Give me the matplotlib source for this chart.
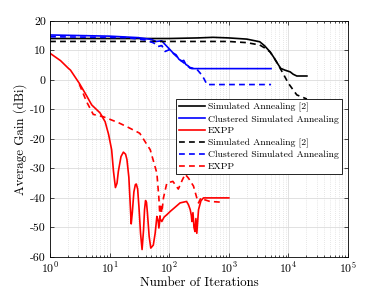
import matplotlib
matplotlib.use("Agg")
import matplotlib.pyplot as plt
from matplotlib.ticker import LogLocator, FixedLocator, NullFormatter

plt.rcParams['font.family'] = 'serif'
plt.rcParams['font.serif'] = ['cmr10', 'DejaVu Serif']
plt.rcParams['mathtext.fontset'] = 'cm'
plt.rcParams['axes.formatter.use_mathtext'] = True
plt.rcParams['axes.unicode_minus'] = False

# ---- data ----
sa_x = [1, 10, 100, 300, 540, 1000, 2000, 3300, 4000, 4900, 5600, 6300, 7400, 8700, 10700, 12000, 13800, 20400]
sa_y = [14.0, 14.0, 14.0, 14.2, 14.4, 14.2, 13.8, 12.9, 11.5, 9.5, 7.8, 6.1, 3.9, 3.3, 2.7, 1.9, 1.3, 1.3]

sa2_x = [1, 100, 1000, 2000, 3300, 4000, 4900, 5600, 6300, 7000, 8100, 10000, 13800, 20400]
sa2_y = [13.0, 13.0, 13.0, 12.6, 11.8, 10.8, 9.5, 7.8, 6.1, 4.5, 2.2, -1.2, -5.1, -6.5]

csa_x = [1, 10, 30, 50, 60, 75, 85, 100, 116, 130, 145, 162, 175, 190, 205, 222, 240, 5100]
csa_y = [15.2, 14.8, 14.3, 13.7, 13.0, 13.2, 12.0, 10.5, 9.1, 8.5, 7.0, 6.3, 6.6, 5.2, 4.8, 4.0, 3.8, 3.8]

csa2_x = [1, 20, 40, 55, 65, 75, 85, 100, 116, 162, 222, 290, 330, 380, 430, 5100]
csa2_y = [14.6, 14.3, 13.5, 12.5, 11.3, 11.6, 9.6, 10.2, 9.0, 6.3, 4.2, 3.6, 2.3, 0.5, -1.6, -1.6]

expp_x = [1, 1.5, 2.03, 2.2, 3.1, 4, 5, 6.9, 8.4, 9.6, 10.8, 11.6, 12.5, 13.3, 14, 15.5, 17, 18.5, 19.5,
          21, 22, 23, 24, 25.5, 27, 28, 29.5, 31, 33, 35, 37, 38.5, 40, 41.5, 43, 46, 49, 54, 58, 62,
          65, 67, 70, 75, 82, 91, 105, 120, 152, 195, 210, 225, 235, 240, 250, 260, 270, 280, 290,
          310, 340, 375, 1000]
expp_y = [9.0, 6.5, 3.9, 3.3, -1.2, -5.0, -8.5, -11.2, -14.2, -18.5, -23.7, -31.0, -36.5, -35.0, -31.0,
          -26.0, -24.5, -25.2, -27.0, -33.0, -41.0, -48.8, -45.0, -38.0, -35.5, -35.3, -37.0, -43.0, -52.0,
          -57.5, -51.0, -44.0, -40.9, -41.5, -45.0, -53.0, -57.0, -56.0, -52.0, -46.3, -47.5, -50.2, -47.0,
          -48.0, -46.5, -45.7, -44.5, -43.5, -41.7, -41.2, -42.3, -44.0, -46.0, -48.0, -45.0, -50.0, -51.4,
          -47.0, -52.0, -44.0, -41.0, -40.0, -40.0]

expp2_x = [3.1, 4.1, 5.3, 7.8, 14, 20, 32, 48, 62, 67, 70, 72, 75, 80, 91, 115, 142, 165, 185, 210, 255,
           290, 310, 340, 375, 480, 810]
expp2_y = [-1.5, -7.4, -11.7, -12.5, -14.5, -16.0, -18.1, -23.7, -31.6, -40.0, -47.0, -42.0, -45.0, -40.0,
           -35.0, -34.4, -37.0, -34.0, -32.0, -33.3, -36.0, -40.0, -41.7, -40.0, -40.5, -41.2, -41.5]

labels = ['Simulated Annealing [2]', 'Clustered Simulated Annealing', 'EXPP']
x_ticks = [1, 10, 100, 1000, 10000, 100000]
y_ticks = [-60, -50, -40, -30, -20, -10, 0, 10, 20]

fig = plt.figure(figsize=(3.85, 2.89), dpi=100)
ax = fig.add_axes([0.130, 0.111, 0.774, 0.817])

lw = 1.2
dash = (0, (3.5, 2.5))
ax.plot(sa_x, sa_y, color='black', lw=lw, label=labels[0])
ax.plot(csa_x, csa_y, color='blue', lw=lw, label=labels[1])
ax.plot(expp_x, expp_y, color='red', lw=lw, label=labels[2])
ax.plot(sa2_x, sa2_y, color='black', lw=lw, ls=dash, label=labels[0])
ax.plot(csa2_x, csa2_y, color='blue', lw=lw, ls=dash, label=labels[1])
ax.plot(expp2_x, expp2_y, color='red', lw=lw, ls=dash, label=labels[2])

ax.set_xscale('log')
ax.set_xlim(1, 1e5)
ax.set_ylim(-60, 20)
ax.xaxis.set_major_locator(FixedLocator(x_ticks))
ax.xaxis.set_minor_locator(LogLocator(base=10, subs=range(2, 10), numticks=20))
ax.xaxis.set_minor_formatter(NullFormatter())
ax.set_yticks(y_ticks)
ax.set_yticklabels([str(v) for v in y_ticks])

ax.grid(True, which='major', color='#dcdcdc', lw=0.6, ls='-')
ax.grid(True, which='minor', axis='x', color='#d0d0d0', lw=0.5, ls=(0, (1, 2)))
ax.set_axisbelow(True)

ax.tick_params(which='both', direction='in', top=True, right=True, labelsize=8.5, width=0.5)
ax.tick_params(which='major', length=3, pad=3)
ax.tick_params(which='minor', length=1.5)
for s in ax.spines.values():
    s.set_linewidth(0.6)

ax.set_xlabel('Number of Iterations', fontsize=9.3, labelpad=0.5)
ax.set_ylabel('Average Gain (dBi)', fontsize=9.3, labelpad=2)

leg = ax.legend(loc='upper left', bbox_to_anchor=(0.423, 0.667), fontsize=7.0, frameon=True,
                fancybox=False, edgecolor='black', framealpha=1, borderpad=0.3,
                labelspacing=0.3, handlelength=2.7, handletextpad=0.3, borderaxespad=0)
leg.get_frame().set_linewidth(0.6)

fig.savefig('out.png', dpi=100)
